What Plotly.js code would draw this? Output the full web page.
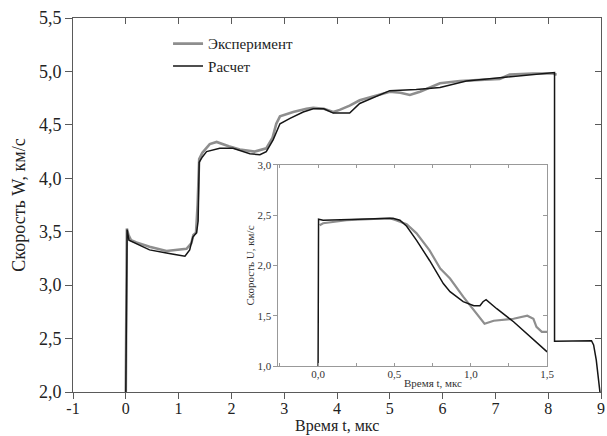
<!DOCTYPE html>
<html>
<head>
<meta charset="utf-8">
<script src="https://cdn.plot.ly/plotly-3.0.1.min.js"></script>
<style>html,body{margin:0;padding:0;background:#fff;}#chart{width:607px;height:436px;}</style>
</head>
<body>
<div id="chart"></div>
<script>
// Main chart: velocity W vs time
var expT = [0, 0.005, 0.02, 0.05, 0.1, 0.2, 0.45, 0.77, 0.96, 1.15, 1.24, 1.28, 1.33, 1.36, 1.39, 1.45, 1.59, 1.72, 1.95, 2.16, 2.44, 2.66, 2.78, 2.85, 2.92, 3.17, 3.42, 3.55, 3.75, 3.93, 4.05, 4.24, 4.43, 4.7, 5.0, 5.2, 5.38, 5.57, 5.95, 6.33, 6.7, 7.08, 7.27, 7.71, 8.09, 8.16];
var expW = [2.0, 3.0, 3.53, 3.47, 3.42, 3.40, 3.36, 3.32, 3.33, 3.34, 3.39, 3.47, 3.49, 3.75, 4.18, 4.24, 4.32, 4.34, 4.30, 4.27, 4.25, 4.28, 4.38, 4.51, 4.58, 4.62, 4.65, 4.66, 4.65, 4.62, 4.64, 4.68, 4.73, 4.77, 4.81, 4.80, 4.78, 4.81, 4.89, 4.91, 4.92, 4.93, 4.97, 4.98, 4.98, 4.97];

var calcT = [0, 0.01, 0.025, 0.06, 0.14, 0.45, 0.77, 1.02, 1.12, 1.21, 1.27, 1.34, 1.37, 1.39, 1.45, 1.53, 1.78, 2.03, 2.35, 2.54, 2.66, 2.79, 2.92, 3.11, 3.36, 3.55, 3.75, 3.93, 4.24, 4.43, 4.7, 5.0, 5.5, 5.95, 6.45, 7.08, 7.71, 8.09, 8.12, 8.12, 8.82, 8.86, 8.91, 8.98];
var calcW = [2.0, 3.3, 3.52, 3.42, 3.40, 3.33, 3.30, 3.28, 3.27, 3.33, 3.45, 3.49, 3.6, 4.15, 4.2, 4.25, 4.28, 4.28, 4.23, 4.22, 4.25, 4.36, 4.51, 4.56, 4.62, 4.65, 4.65, 4.61, 4.61, 4.70, 4.76, 4.82, 4.83, 4.85, 4.91, 4.94, 4.97, 4.99, 4.99, 2.475, 2.48, 2.44, 2.3, 2.0];

// Inset: velocity U vs time
var insExpT = [0.01, 0.033, 0.186, 0.30, 0.47, 0.51, 0.58, 0.645, 0.73, 0.80, 0.864, 0.95, 1.04, 1.09, 1.15, 1.28, 1.37, 1.41, 1.43, 1.465, 1.50];
var insExpU = [2.40, 2.42, 2.45, 2.46, 2.47, 2.45, 2.41, 2.32, 2.15, 1.97, 1.87, 1.69, 1.52, 1.42, 1.45, 1.47, 1.50, 1.47, 1.39, 1.34, 1.34];
var insCalcT = [0, 0.003, 0.033, 0.30, 0.49, 0.536, 0.58, 0.645, 0.73, 0.82, 0.864, 0.95, 1.02, 1.06, 1.08, 1.10, 1.17, 1.28, 1.39, 1.50];
var insCalcU = [1.0, 2.46, 2.45, 2.46, 2.47, 2.45, 2.39, 2.25, 2.05, 1.82, 1.74, 1.64, 1.60, 1.60, 1.64, 1.66, 1.57, 1.44, 1.29, 1.14];

var seriesNames = ['Эксперимент', 'Расчет'];
var mainXTicks = [-1, 0, 1, 2, 3, 4, 5, 6, 7, 8, 9];
var mainXTickText = ['-1', '0', '1', '2', '3', '4', '5', '6', '7', '8', '9'];

var FONT = 'Liberation Serif, Times New Roman, serif';
var GRAY = '#8e8e8e', BLACK = '#151515';

var traces = [
  {x: expT, y: expW, mode: 'lines', name: seriesNames[0], line: {color: GRAY, width: 2.6}, xaxis: 'x', yaxis: 'y'},
  {x: calcT, y: calcW, mode: 'lines', name: seriesNames[1], line: {color: BLACK, width: 1.5}, xaxis: 'x', yaxis: 'y'},
  {x: [null], y: [null], xaxis: 'x3', yaxis: 'y3', showlegend: false, hoverinfo: 'skip'},
  {x: insExpT, y: insExpU, mode: 'lines', line: {color: GRAY, width: 2.2}, xaxis: 'x2', yaxis: 'y2', showlegend: false},
  {x: insCalcT, y: insCalcU, mode: 'lines', line: {color: BLACK, width: 1.5}, xaxis: 'x2', yaxis: 'y2', showlegend: false},
  {x: [null], y: [null], xaxis: 'x4', yaxis: 'y4', showlegend: false, hoverinfo: 'skip'}
];

var mainLine = '#5a5a5a', insetLine = '#999999';
var layout = {
  width: 607, height: 436,
  margin: {l: 73, r: 6, t: 18, b: 44},
  paper_bgcolor: '#fff', plot_bgcolor: 'rgba(0,0,0,0)',
  separators: ',.',
  font: {family: FONT, color: '#222'},
  showlegend: true,
  legend: {x: 0.18, y: 0.975, xanchor: 'left', yanchor: 'top', bgcolor: 'rgba(0,0,0,0)',
           font: {family: FONT, size: 15, color: '#222'}, tracegroupgap: 0},
  xaxis: {domain: [0, 1], anchor: 'y', range: [-1, 9], tickvals: mainXTicks, ticktext: mainXTickText,
          ticks: 'outside', ticklen: 6, tickcolor: mainLine, showline: true, linecolor: mainLine, linewidth: 1,
          showgrid: false, zeroline: false, tickfont: {family: FONT, size: 16, color: '#222'},
          ticklabelstandoff: -4},
  yaxis: {domain: [0, 1], anchor: 'x', range: [2, 5.5], dtick: 0.5, tick0: 2, tickformat: '.1f',
          ticks: 'outside', ticklen: 7, tickcolor: mainLine, showline: true, linecolor: mainLine, linewidth: 1,
          showgrid: false, zeroline: false, tickfont: {family: FONT, size: 18, color: '#222'},
          title: {text: 'Скорость W, км/с', font: {family: FONT, size: 18, color: '#222'}, standoff: 8}},
  xaxis3: {overlaying: 'x', side: 'top', anchor: 'y', range: [-1, 9], dtick: 1, tick0: 0,
           ticks: 'inside', ticklen: 6, tickcolor: mainLine, showline: true, linecolor: mainLine,
           showticklabels: false, showgrid: false, zeroline: false},
  yaxis3: {overlaying: 'y', side: 'right', anchor: 'x', range: [2, 5.5], dtick: 0.5, tick0: 2,
           ticks: 'inside', ticklen: 6, tickcolor: mainLine, showline: true, linecolor: mainLine,
           showticklabels: false, showgrid: false, zeroline: false},
  xaxis2: {domain: [0.389, 0.898], anchor: 'y2', range: [-0.26, 1.5], dtick: 0.5, tick0: 0, tickformat: '.1f',
           ticks: 'inside', ticklen: 3, tickcolor: insetLine,
           minor: {dtick: 0.25, tick0: 0, ticks: 'inside', ticklen: 3, tickcolor: insetLine},
           showline: true, linecolor: insetLine, linewidth: 1, showgrid: false, zeroline: false,
           ticklabelstandoff: -2,
           tickfont: {family: FONT, size: 11, color: '#333'}},
  yaxis2: {domain: [0.0695, 0.607], anchor: 'x2', range: [1, 3], dtick: 0.5, tick0: 1, tickformat: '.1f',
           ticks: 'outside', ticklen: 4, tickcolor: insetLine, showline: true, linecolor: insetLine, linewidth: 1,
           showgrid: false, zeroline: false, tickfont: {family: FONT, size: 11, color: '#333'},
           title: {text: 'Скорость U, км/с', font: {family: FONT, size: 11, color: '#333'}, standoff: 0}},
  xaxis4: {overlaying: 'x2', side: 'top', anchor: 'y2', range: [-0.26, 1.5], dtick: 0.25, tick0: 0,
           ticks: 'inside', ticklen: 3, tickcolor: insetLine, showline: true, linecolor: insetLine,
           showticklabels: false, showgrid: false, zeroline: false},
  yaxis4: {overlaying: 'y2', side: 'right', anchor: 'x2', range: [1, 3], dtick: 0.5, tick0: 1,
           ticks: 'inside', ticklen: 4, tickcolor: insetLine, showline: true, linecolor: insetLine,
           showticklabels: false, showgrid: false, zeroline: false},
  annotations: [
    {text: 'Время t, мкс', xref: 'paper', yref: 'paper', x: 0.5, y: -0.091,
     xanchor: 'center', yanchor: 'middle', showarrow: false, font: {family: FONT, size: 16, color: '#222'}},
    {text: 'Время t, мкс', xref: 'x2 domain', yref: 'y2 domain', x: 0.576, y: -0.085,
     xanchor: 'center', yanchor: 'middle', showarrow: false, font: {family: FONT, size: 11, color: '#333'}}
  ]
};

Plotly.newPlot('chart', traces, layout, {displayModeBar: false, staticPlot: true});
</script>
</body>
</html>
